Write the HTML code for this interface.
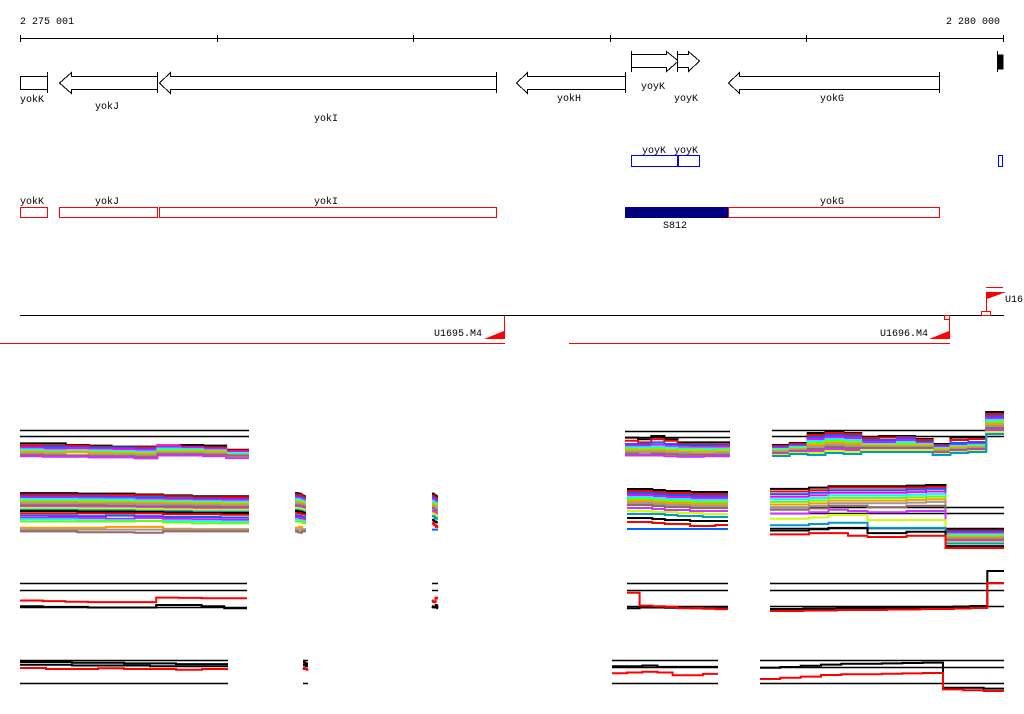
<!DOCTYPE html>
<html><head><meta charset="utf-8"><style>
html,body{margin:0;padding:0;background:#fff;}
svg{display:block;}
text{font-family:"Liberation Mono","DejaVu Sans Mono",monospace;font-size:10px;fill:#000;}
</style></head><body>
<svg id="chart" width="1024" height="714" viewBox="0 0 1024 714" xmlns="http://www.w3.org/2000/svg">
<g stroke="#000" stroke-width="1" shape-rendering="crispEdges">
<line x1="20" y1="38.5" x2="1004" y2="38.5"/>
<line x1="20.5" y1="35" x2="20.5" y2="42"/><line x1="217.5" y1="35" x2="217.5" y2="42"/><line x1="413.5" y1="35" x2="413.5" y2="42"/><line x1="610.5" y1="35" x2="610.5" y2="42"/><line x1="806.5" y1="35" x2="806.5" y2="42"/><line x1="1003.5" y1="35" x2="1003.5" y2="42"/>
</g>
<text x="20" y="24">2 275 001</text>
<text x="1000" y="24" text-anchor="end">2 280 000</text>

<g fill="#fff" stroke="#000" stroke-width="1" shape-rendering="crispEdges">
<rect x="20.5" y="76.5" width="27" height="13"/>
<line x1="47.5" y1="72" x2="47.5" y2="93"/>
<polygon points="59.5,83 71.5,72.5 71.5,76.5 157.5,76.5 157.5,89.5 71.5,89.5 71.5,93.5"/>
<line x1="157.5" y1="72" x2="157.5" y2="93"/>
<polygon points="159.5,83 170.5,72.5 170.5,76.5 496.5,76.5 496.5,89.5 170.5,89.5 170.5,93.5"/>
<line x1="496.5" y1="72" x2="496.5" y2="93"/>
<polygon points="516.5,83 527.5,72.5 527.5,76.5 625.5,76.5 625.5,89.5 527.5,89.5 527.5,93.5"/>
<line x1="625.5" y1="72" x2="625.5" y2="93"/>
<polygon points="631.5,54.5 666.5,54.5 666.5,51.5 678.5,61 666.5,71.5 666.5,67.5 631.5,67.5"/>
<line x1="631.5" y1="51" x2="631.5" y2="72"/>
<polygon points="677.5,54.5 688.5,54.5 688.5,51.5 699.5,61 688.5,71.5 688.5,67.5 677.5,67.5"/>
<line x1="677.5" y1="51" x2="677.5" y2="72"/>
<polygon points="728.5,83 739.5,72.5 739.5,76.5 939.5,76.5 939.5,89.5 739.5,89.5 739.5,93.5"/>
<line x1="939.5" y1="72" x2="939.5" y2="93"/>
<rect x="998" y="55" width="5" height="14" fill="#000"/>
<line x1="997.5" y1="51" x2="997.5" y2="72"/>
</g>
<text x="20" y="102">yokK</text>
<text x="107" y="109" text-anchor="middle">yokJ</text>
<text x="326" y="121" text-anchor="middle">yokI</text>
<text x="569" y="101" text-anchor="middle">yokH</text>
<text x="653" y="89" text-anchor="middle">yoyK</text>
<text x="686" y="101" text-anchor="middle">yoyK</text>
<text x="832" y="101" text-anchor="middle">yokG</text>

<g fill="#fff" stroke="#0000ff" shape-rendering="crispEdges">
<rect x="631.5" y="155.5" width="46" height="11"/>
<rect x="678.5" y="155.5" width="21" height="11"/>
<rect x="998.5" y="155.5" width="4" height="11"/>
</g>
<text x="654" y="153" text-anchor="middle">yoyK</text>
<text x="686" y="153" text-anchor="middle">yoyK</text>

<g fill="#fff" stroke="#ff0000" shape-rendering="crispEdges">
<rect x="20.5" y="207.5" width="27" height="10"/>
<rect x="59.5" y="207.5" width="98" height="10"/>
<rect x="159.5" y="207.5" width="337" height="10"/>
<rect x="728.5" y="207.5" width="211" height="10"/>
</g>
<rect x="625" y="207" width="103" height="11" fill="#000080"/>
<text x="20" y="204">yokK</text>
<text x="107" y="204" text-anchor="middle">yokJ</text>
<text x="326" y="204" text-anchor="middle">yokI</text>
<text x="832" y="204" text-anchor="middle">yokG</text>
<text x="675" y="228" text-anchor="middle">S812</text>

<g shape-rendering="crispEdges">
<line x1="20" y1="315.5" x2="1004" y2="315.5" stroke="#000"/>
<line x1="0" y1="343.5" x2="505" y2="343.5" stroke="#f00"/>
<line x1="569" y1="343.5" x2="950" y2="343.5" stroke="#f00"/>
<line x1="504.5" y1="316" x2="504.5" y2="339" stroke="#f00"/>
<polygon points="484,339 504,331 504,339" fill="#f00"/>
<line x1="949.5" y1="316" x2="949.5" y2="339" stroke="#f00"/>
<rect x="944.5" y="315.5" width="5" height="4" fill="#fff" stroke="#f00"/>
<polygon points="929,339 949,331 949,339" fill="#f00"/>
<line x1="986" y1="287.5" x2="1003" y2="287.5" stroke="#f00"/>
<line x1="986.5" y1="292" x2="986.5" y2="312" stroke="#f00"/>
<polygon points="987,292 1006,292 987,299" fill="#f00"/>
<rect x="981.5" y="311.5" width="9" height="4" fill="#fff" stroke="#f00"/>
</g>
<text x="434" y="336">U1695.M4</text>
<text x="880" y="336">U1696.M4</text>
<text x="1005" y="302">U16</text>
<g id="tracks"></g>
</svg>
<script>
// colour palette for series
const palette = ["#000000","#ff0000","#0066ff","#ff00ff","#00ffff","#66ff00","#ff9900","#999999","#996666","#cc33ff","#ccff00","#0099cc"];
// ---- data arrays (values on a 0..10 scale per panel) ----
const r1lRefs = [9.4, 7.5];
const r1lSeries = [
 [5.2,5.2,4.7,4.5,4.2,4.2,4.5,4.7,4.5,3.2],[4.5,4.5,4.5,4.2,4,4,4.6,4.2,4,3],
 [4,4.2,4,3.8,3.8,3.6,4.2,4,3.6,2.6],[3.8,3.6,3.7,3.4,3.4,3.2,4.4,3.8,3.4,2.6],
 [3.3,3,3,3,2.8,2.6,3.6,3.4,3,2.2],[2.8,2.6,2.7,2.5,2.4,2.2,3,3,2.8,1.6],
 [2.5,2.3,2.4,2.2,2,1.8,2.6,2.6,2.4,1.6],[2,1.8,1.5,1.6,1.6,1.4,2.2,2.2,2,1.2],
 [1.6,1.4,1.4,1.2,1.2,1,1.8,1.8,1.6,1.4],[1.2,1,1,0.8,0.8,0.5,1.4,1.4,1.2,0.6]];
const r1sRefs = [9.1, 7.2];
const r1sSeries = [
 [7,6.5,7.5,6.5,5.5,5.5,5.5,5.5],[6,5.5,6.5,6,5,4.8,4.8,4.8],[5,5,5.5,5,4.6,4.5,4.5,4.5],
 [4.5,4.4,4.8,4.4,4,4,4,4.2],[4,4,4.2,3.8,3.6,3.6,3.6,3.6],[3.5,3.4,3.6,3.2,3.2,3.2,3,3.2],
 [3,3,3,2.8,2.6,2.6,2.6,2.6],[2.5,2.5,2.5,2.2,2.2,2,2,2.2],[2,1.8,2,1.8,1.6,1.6,1.6,1.6],
 [1.4,1.4,1.4,1.2,1,1,1.2,1.2]];
const r1bRefs = [6, 4.8];
const r1bSeries = [
 [3,3.4,5.4,5.6,5.4,4.6,4.8,4.8,4.2,3.2,4.5,4.5,9.6],[2.8,3.2,5,5.4,5.2,4.4,4.5,4.6,4,3,4,4.2,9.2],
 [2.6,3,4.6,5,4.8,4,4,4.4,3.6,2.8,3.4,3.6,8.8],[2.4,2.8,4.2,4.6,4.4,3.6,3.6,4,3.4,2.6,3,3.2,8.4],
 [2.2,2.6,3.8,4.2,4,3.2,3.2,3.6,3.2,2.4,2.8,3,8],[2,2.4,3.4,3.8,3.6,3,3,3.2,3,2.2,2.6,2.8,7.6],
 [1.8,2.2,3,3.4,3.2,2.8,2.8,2.8,2.8,2,2.4,2.6,7.2],[1.6,2,2.6,3,2.8,2.6,2.6,2.6,2.6,1.8,2.2,2.4,6.8],
 [1.4,1.8,2.2,2.6,2.4,2.4,2.4,2.4,2.4,1.6,2,2.2,6.4],[1.2,1.6,1.8,2.2,2,2.2,2.2,2.2,2.2,1.4,1.8,2,6],
 [1,1.4,1.4,1.8,1.6,2,2,2,2,1.2,1.6,1.8,5.6],[0.8,1.2,1,1.4,1.2,1.6,1.6,1.6,1.6,1,1.4,1.6,5.2]];
const r2lRefs = [];
const r2lSeries = [
 [9.3,9.3,9.2,9.2,9,8.8,8.6,8.6],[9,9,8.9,8.9,8.8,8.6,8.4,8.4],[8.6,8.6,8.6,8.5,8.4,8.2,8.1,8],
 [8.3,8.3,8.2,8.2,8,7.9,7.8,7.8],[8,8,7.9,7.9,7.7,7.6,7.5,7.4],[7.6,7.6,7.6,7.5,7.4,7.3,7.2,7.1],
 [7.3,7.3,7.2,7.2,7.1,7,6.9,6.8],[7,7,6.9,6.9,6.8,6.7,6.6,6.5],[6.6,6.6,6.6,6.5,6.4,6.4,6.3,6.2],
 [6.3,6.3,6.2,6.2,6.1,6,5.9,5.9],[6,6,5.9,5.9,5.8,5.7,5.6,5.6],[5.6,5.6,5.5,5.5,5.4,5.3,5.2,5.2],
 [5.3,5.3,5.2,5.2,5.1,5,4.9,4.9],[4.8,4.8,4.8,4.8,4.8,4.6,4.6,4.5],[4.3,4.3,4.2,4.3,4.2,4,4,3.9],
 [3.8,3.9,3.8,3.6,3.8,3.6,3.5,3.4],[3.5,3.5,3.3,3.3,3.2,3.2,3.1,3],[3,3,3,3,3.1,2.8,2.6,2.6],
 [1.6,1.6,1.6,1.8,1.8,1.4,1.3,1.3],[1.2,1.2,1.2,1.2,1.2,1.2,1.2,1.2],[0.8,0.8,0.6,0.6,0.5,0.8,0.8,0.8]];
const r2sRefs = [];
const r2sSeries = [
 [9.2,9.2,9,8.8,8.8,8.6,8.6,8.6],[8.8,8.8,8.6,8.4,8.4,8.2,8.2,8.2],[8.4,8.4,8.2,8,8,7.8,7.8,7.8],
 [8,8,7.8,7.6,7.6,7.4,7.4,7.4],[7.6,7.6,7.4,7.2,7.2,7,7,7],[7.2,7.2,7,6.8,6.8,6.6,6.6,6.6],
 [6.8,6.8,6.6,6.4,6.4,6.2,6.2,6.2],[6.4,6.4,6.2,6,6,5.8,5.8,5.8],[6,6,5.8,5.6,5.6,5.4,5.4,5.4],
 [5.4,5.4,5.2,5,5,4.8,4.8,4.8],[4.8,4.8,4.6,4.6,4.4,4.4,4.2,4.2],[4.2,4.2,4.2,4,3.8,3.8,3.6,3.6],
 [3.4,3.4,3.2,3,3,2.8,2.8,2.8],[2.6,2.6,2.4,2.2,2.2,1.8,1.8,2],[1.2,1.2,1.2,1.2,1.2,1.2,1.2,1.2]];
const r2bRefs = [6.6, 5.7, 3.4];
const r2bSeries = [
 [9.4,9.4,9.6,9.8,9.8,9.8,9.8,9.9,10,3.2,3.2,3.2],[9,9,9.2,9.6,9.6,9.6,9.6,9.6,9.7,3,3,3],
 [8.6,8.6,8.8,9.2,9.2,9.2,9.2,9.3,9.4,2.8,2.8,2.8],[8.2,8.2,8.4,8.8,8.8,8.8,8.8,8.9,9,2.6,2.6,2.6],
 [7.8,7.8,8,8.4,8.4,8.4,8.4,8.5,8.6,2.4,2.4,2.4],[7.4,7.4,7.6,8,8,8,8,8.1,8.2,2.2,2.2,2.2],
 [7,7,7.2,7.6,7.6,7.6,7.6,7.7,7.8,2,2,2],[6.6,6.6,6.8,7.2,7.2,7.2,7.2,7.3,7.4,1.8,1.8,1.8],
 [6.2,6.2,6.4,6.8,6.8,6.6,6.6,6.8,6.8,1.6,1.6,1.6],[5.6,5.6,5.8,6.2,6,5.8,5.8,6,6,1.4,1.4,1.4],
 [4.8,4.8,5,5.4,5.4,4.6,4.6,4.6,4.6,1.2,1.2,1.2],[3.8,3.8,4,4.2,4.2,3.4,3.4,3.4,3.4,1,1,1],
 [3,3,3.2,3.4,3.4,2.6,2.6,2.8,2.8,0.6,0.6,0.6],[2.4,2.4,2.6,2.6,2.2,2,2,2.2,2.2,0.3,0.3,0.3]];
const r3lRefs = [9.06, 6.9, 1.6];
const r3lSeries = [
 [1.8,1.6,1.6,1.4,1.4,1.4,2.2,2.2,1.8,1.2],[3.6,3.4,3.2,3.1,3.1,3.1,4.5,4.4,4.3,4.3]];
const r3sRefs = [9, 6.9, 2];
const r3sSeries = [[1.2,1.4,1.4,1.3,1.3,1.2,1.2,1.2],[6,2,1.8,1.6,1.2,1.2,1,0.9]];
const r3bRefs = [6.4, 5, 1.8];
const r3bSeries = [
 [1.2,1.2,1.3,1.3,1.4,1.4,1.4,1.5,1.5,1.6,1.6,1.7,1.8,8.8],
 [0.8,0.8,0.9,0.9,1,1,1,1.1,1.1,1.2,1.2,1.3,1.4,6.4]];
const r4lRefs = [8.6, 2];
const r4lSeries = [[8,8,7.8,7.8,7.6,7.6,7.4,7.4],[7.2,7.2,7,7,7,6.8,6.8,6.8],[6.3,6,6,6.2,6,6,5.8,6]];
const r4sRefs = [8.6, 6.6, 2];
const r4sSeries = [[6.8,6.8,7,6.6,6.6,6.6,6.6],[4.8,5,5.2,5,4.2,4.2,4.6]];
const r4bRefs = [8.75, 7, 3];
const r4bSeries = [[6.8,7,7.3,7.6,7.8,7.8,7.9,8,8.1,1.8,1.8,1.6],[4,4.3,4.6,5,5.2,5.2,5.3,5.4,5.5,1.4,1.2,1]];
const stripA = r2lSeries, stripB = r2sSeries;

// ---- layout (not data) ----
const layout = [
 {name:"row1-left", x0:20,x1:249,yT:428,yB:460,refs:r1lRefs,series:r1lSeries,w:2},
 {name:"row1-mid", x0:625,x1:730,yT:428,yB:460,refs:r1sRefs,series:r1sSeries,w:2},
 {name:"row1-right", x0:772,x1:1004,yT:410,yB:460,refs:r1bRefs,series:r1bSeries,w:2},
 {name:"row2-left", x0:20,x1:249,yT:490,yB:535,refs:r2lRefs,series:r2lSeries,w:2},
 {name:"row2-strip-a", x0:295,x1:306,yT:490,yB:535,refs:[],series:stripA,w:2},
 {name:"row2-strip-b", x0:432,x1:438,yT:490,yB:535,refs:[],series:stripB,w:2},
 {name:"row2-mid", x0:627,x1:728,yT:485,yB:535,refs:r2sRefs,series:r2sSeries,w:2},
 {name:"row2-right", x0:770,x1:1004,yT:485,yB:550,refs:r2bRefs,series:r2bSeries,w:2},
 {name:"row3-left", x0:20,x1:247,yT:580,yB:612,refs:r3lRefs,series:r3lSeries,w:2},
 {name:"row3-strip", x0:432,x1:438,yT:580,yB:612,refs:r3lRefs,series:r3lSeries,w:2},
 {name:"row3-mid", x0:627,x1:728,yT:580,yB:612,refs:r3sRefs,series:r3sSeries,w:2},
 {name:"row3-right", x0:770,x1:1004,yT:565,yB:615,refs:r3bRefs,series:r3bSeries,w:2},
 {name:"row4-left", x0:20,x1:228,yT:655,yB:690,refs:r4lRefs,series:r4lSeries,w:2},
 {name:"row4-strip", x0:303,x1:308,yT:655,yB:690,refs:r4lRefs,series:r4lSeries,w:2},
 {name:"row4-mid", x0:612,x1:718,yT:655,yB:690,refs:r4sRefs,series:r4sSeries,w:2},
 {name:"row4-right", x0:760,x1:1004,yT:655,yB:695,refs:r4bRefs,series:r4bSeries,w:2}
];
const NS = "http://www.w3.org/2000/svg";
const root = document.getElementById("tracks");
layout.forEach(p => {
  const g = document.createElementNS(NS, "g");
  
  
  const yS = v => p.yT + (10 - v) * (p.yB - p.yT) / 10;
  p.refs.forEach(r => {
    const l = document.createElementNS(NS, "line");
    
    
    const y = Math.round(yS(r)) + 0.5;
    l.setAttribute("x1", p.x0); l.setAttribute("x2", p.x1);
    l.setAttribute("y1", y); l.setAttribute("y2", y);
    l.setAttribute("stroke", "#000"); l.setAttribute("stroke-width", 1.5);
    g.appendChild(l);
  });
  p.series.forEach((s, i) => {
    const n = s.length, w = (p.x1 - p.x0) / n;
    let d = "";
    s.forEach((v, k) => {
      const y = yS(v).toFixed(1);
      const xa = (p.x0 + k * w).toFixed(1), xb = (p.x0 + (k + 1) * w).toFixed(1);
      d += (k === 0 ? "M" : "L") + xa + "," + y + " L" + xb + "," + y + " ";
    });
    const path = document.createElementNS(NS, "path");
    
    
    path.setAttribute("d", d);
    path.setAttribute("fill", "none");
    const c = p.series.length <= 3 ? (i === p.series.length - 1 && p.series.length>1 ? "#ff0000" : "#000") : palette[i % palette.length];
    path.setAttribute("stroke", c);
    path.setAttribute("stroke-width", p.w);
    g.appendChild(path);
  });
  root.appendChild(g);
});
</script>
</body></html>
